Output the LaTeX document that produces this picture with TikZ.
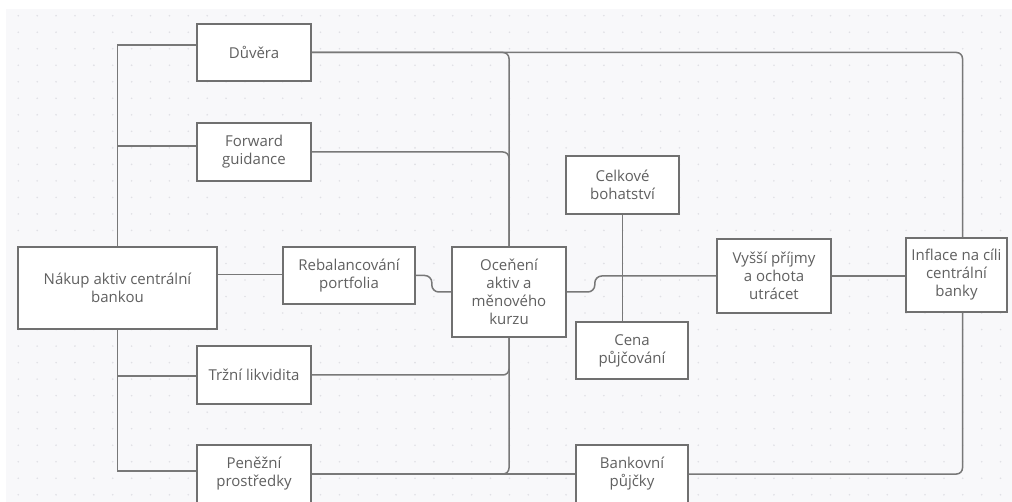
\documentclass[tikz,border=0pt]{standalone}
\usepackage{fontspec}
\setmainfont{Open Sans}
\definecolor{boxc}{HTML}{707070}
\definecolor{linec}{HTML}{787878}
\definecolor{txt}{HTML}{606060}
\definecolor{bgc}{HTML}{F8F8FA}
\definecolor{dotc}{HTML}{E0E0E5}
\begin{document}
\begin{tikzpicture}[x=1pt,y=-1pt,
  box/.style={draw=boxc, fill=white, line width=1.6pt, align=center, text=txt,
    font=\fontsize{15}{18}\selectfont, inner sep=0pt},
  conn/.style={draw=linec, line width=1.5pt},
  rconn/.style={conn, rounded corners=6pt}]
\useasboundingbox (0,0) rectangle (1012,502);
\clip (0,0) rectangle (1012,502);
\fill[white] (0,0) rectangle (1012,502);
\fill[bgc] (6,9) rectangle (1012,502);
\foreach \i in {0,...,52} \foreach \j in {0,...,29}
  \fill[dotc] ({18.3+18.89*\i},{15.7+16.52*\j}) circle (0.9pt);

% nodes
\node[box, minimum width=114pt, minimum height=57pt] (dv) at (254,52.5) {Důvěra};
\node[box, minimum width=114pt, minimum height=58pt] (fg) at (254,152) {Forward\\guidance};
\node[box, minimum width=199pt, minimum height=82pt] (nk) at (117.5,288) {Nákup aktiv centrální\\bankou};
\node[box, minimum width=132pt, minimum height=57pt] (rb) at (349,275.5) {Rebalancování\\portfolia};
\node[box, minimum width=114pt, minimum height=90pt] (oc) at (509,292) {Oceňení\\aktiv a\\měnového\\kurzu};
\node[box, minimum width=113pt, minimum height=58pt] (cb) at (622.5,185) {Celkové\\bohatství};
\node[box, minimum width=112pt, minimum height=57pt] (cp) at (632,350.5) {Cena\\půjčování};
\node[box, minimum width=114pt, minimum height=74pt] (vp) at (774,276) {Vyšší příjmy\\a ochota\\utrácet};
\node[box, minimum width=101pt, minimum height=74pt] (in) at (956.5,275) {Inflace na cíli\\centrální\\banky};
\node[box, minimum width=114pt, minimum height=58pt] (tl) at (254,375) {Tržní likvidita};
\node[box, minimum width=114pt, minimum height=58pt] (pp) at (254,474) {Peněžní\\prostředky};
\node[box, minimum width=112pt, minimum height=58pt] (bp) at (632,474) {Bankovní\\půjčky};

% connectors
\draw[conn] (nk.north) |- ([yshift=7.5pt]dv.west);
\draw[conn] (nk.north) |- ([yshift=6pt]fg.west);
\draw[conn] (nk.south) |- ([yshift=-1pt]tl.west);
\draw[conn] (nk.south) |- ([yshift=3pt]pp.west);
\draw[conn] ([yshift=1pt]rb.west -| nk.east) -- ([yshift=1pt]rb.west);
\draw[conn, rounded corners=7pt] (rb.east) -- ++(16,0) |- (oc.west);
\draw[conn, rounded corners=7pt] (oc.east) -- ++(28,0) |- (vp.west);
\draw[conn] (vp.east) -- (vp.east -| in.west);
\draw[conn] (cb.south) -- (cb.south |- cp.north);
\draw[rconn] (dv.east) -| ([xshift=6pt]in.north);
\draw[rconn] (dv.east) -| (oc.north);
\draw[rconn] (fg.east) -| (oc.north);
\draw[rconn] (tl.east) -| (oc.south);
\draw[rconn] (pp.east) -| (oc.south);
\draw[conn] (pp.east) -- (bp.west);
\draw[rconn] (bp.east) -| ([xshift=6pt]in.south);
\end{tikzpicture}
\end{document}
